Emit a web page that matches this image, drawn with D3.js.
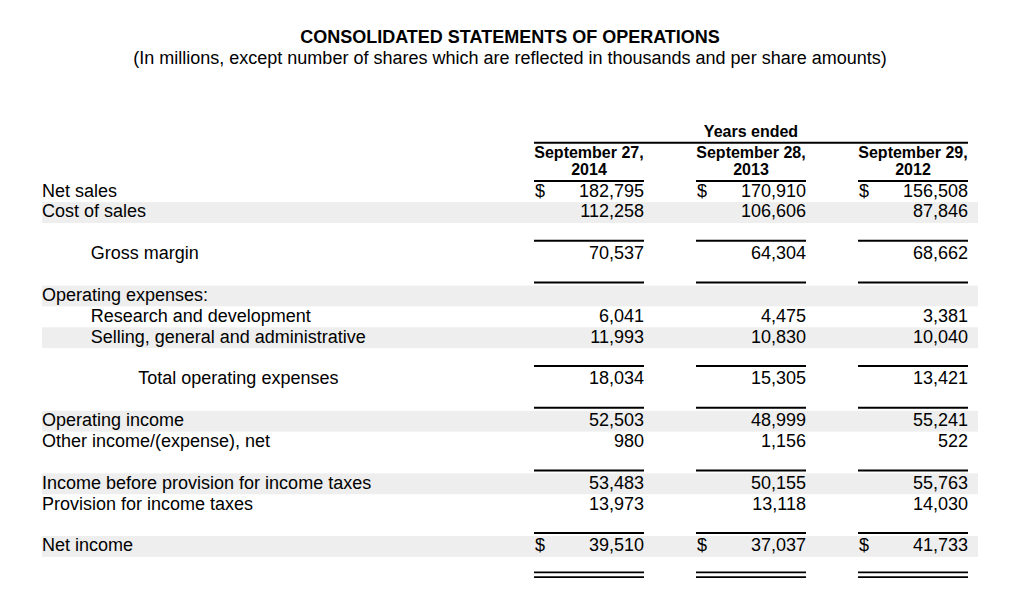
<!DOCTYPE html>
<html>
<head>
<meta charset="utf-8">
<script src="https://cdn.jsdelivr.net/npm/d3@7"></script>
<style>
  html, body { margin: 0; padding: 0; background: #fff; }
  svg text { font-family: "Liberation Sans", Arial, Helvetica, sans-serif; fill: #000; }
</style>
</head>
<body>
<svg id="chart" width="1014" height="610"></svg>
<script>
// ---- Data ----
const title = "CONSOLIDATED STATEMENTS OF OPERATIONS";
const subtitle = "(In millions, except number of shares which are reflected in thousands and per share amounts)";
const groupHeader = "Years ended";
const periods = [["September 27,", "2014"], ["September 28,", "2013"], ["September 29,", "2012"]];

const rowLabels = [
  "Net sales", "Cost of sales", "", "Gross margin", "",
  "Operating expenses:", "Research and development", "Selling, general and administrative", "",
  "Total operating expenses", "", "Operating income", "Other income/(expense), net", "",
  "Income before provision for income taxes", "Provision for income taxes", "", "Net income"
];
// row level: 0 = line item, 1 = sub item, 2 = total
const rowLevel = [0,0,0,1,0,0,1,1,0,2,0,0,0,0,0,0,0,0];

const fy2014 = [182795,112258,null,70537,null,null,6041,11993,null,18034,null,52503,980,null,53483,13973,null,39510];
const fy2013 = [170910,106606,null,64304,null,null,4475,10830,null,15305,null,48999,1156,null,50155,13118,null,37037];
const fy2012 = [156508,87846,null,68662,null,null,3381,10040,null,13421,null,55241,522,null,55763,14030,null,41733];

const shadedRows = [1,5,7,11,14,17];
const dollarRows = [0,17];
const ruleAboveRows = [3,5,9,11,14,17];
const doubleRuleAfterRow = 17;

// ---- Drawing ----
const svg = d3.select("#chart");
const series = [fy2014, fy2013, fy2012];
const fmt = d3.format(",");

const x = d3.scaleBand().domain(d3.range(periods.length)).range([534, 968]).paddingInner(52/162).paddingOuter(0);
const y = d3.scaleLinear().domain([0, 1]).range([181.2, 181.2 + 20.87]);
const rowH = 20.87;
const indentX = [42, 90.7, 138.3];

// shaded bands
svg.append("g").selectAll("rect").data(shadedRows).join("rect")
  .attr("x", 42).attr("width", 936)
  .attr("y", d => y(d)).attr("height", rowH)
  .attr("fill", "#eeeeee");

// title
svg.append("text").attr("x", 510).attr("y", 43.3).attr("text-anchor", "middle")
  .style("font-size", "18px").style("font-weight", "bold").text(title);
svg.append("text").attr("x", 510).attr("y", 63.8).attr("text-anchor", "middle")
  .style("font-size", "18px").text(subtitle);

// header
const hdr = svg.append("g").style("font-size", "16px").style("font-weight", "bold");
hdr.append("text").attr("x", (x(0) + x(2) + x.bandwidth()) / 2).attr("y", 136.7)
  .attr("text-anchor", "middle").text(groupHeader);
svg.append("line").attr("x1", x(0)).attr("x2", x(2) + x.bandwidth())
  .attr("y1", 142.7).attr("y2", 142.7).attr("stroke", "#000").attr("stroke-width", 2);

periods.forEach((p, i) => {
  const cx = x(i) + x.bandwidth() / 2;
  hdr.append("text").attr("x", cx).attr("y", 157.8).attr("text-anchor", "middle").text(p[0]);
  hdr.append("text").attr("x", cx).attr("y", 175).attr("text-anchor", "middle").text(p[1]);
  svg.append("line").attr("x1", x(i)).attr("x2", x(i) + x.bandwidth())
    .attr("y1", y(0) - 0.3).attr("y2", y(0) - 0.3).attr("stroke", "#000").attr("stroke-width", 2);
});

// row labels
svg.append("g").style("font-size", "18px").selectAll("text")
  .data(rowLabels.map((l, i) => ({ l, i }))).join("text")
  .attr("x", d => indentX[rowLevel[d.i]])
  .attr("y", d => y(d.i) + 15.4)
  .text(d => d.l);

// values
series.forEach((vals, c) => {
  const g = svg.append("g").style("font-size", "18px");
  g.selectAll("text.v").data(vals.map((v, i) => ({ v, i })).filter(d => d.v !== null)).join("text")
    .attr("class", "v")
    .attr("x", x(c) + x.bandwidth())
    .attr("y", d => y(d.i) + 15.4)
    .attr("text-anchor", "end")
    .text(d => fmt(d.v));
  g.selectAll("text.d").data(dollarRows).join("text")
    .attr("class", "d")
    .attr("x", x(c) + 1)
    .attr("y", d => y(d) + 15.4)
    .text("$");
  // single rules
  g.selectAll("line.r").data(ruleAboveRows).join("line")
    .attr("class", "r")
    .attr("x1", x(c)).attr("x2", x(c) + x.bandwidth())
    .attr("y1", d => y(d) - 3).attr("y2", d => y(d) - 3)
    .attr("stroke", "#000").attr("stroke-width", 2);
  // double rule
  [15.6, 20.2].forEach(off => {
    g.append("line")
      .attr("x1", x(c)).attr("x2", x(c) + x.bandwidth())
      .attr("y1", y(doubleRuleAfterRow + 1) + off).attr("y2", y(doubleRuleAfterRow + 1) + off)
      .attr("stroke", "#000").attr("stroke-width", 1.8);
  });
});
</script>
</body>
</html>
